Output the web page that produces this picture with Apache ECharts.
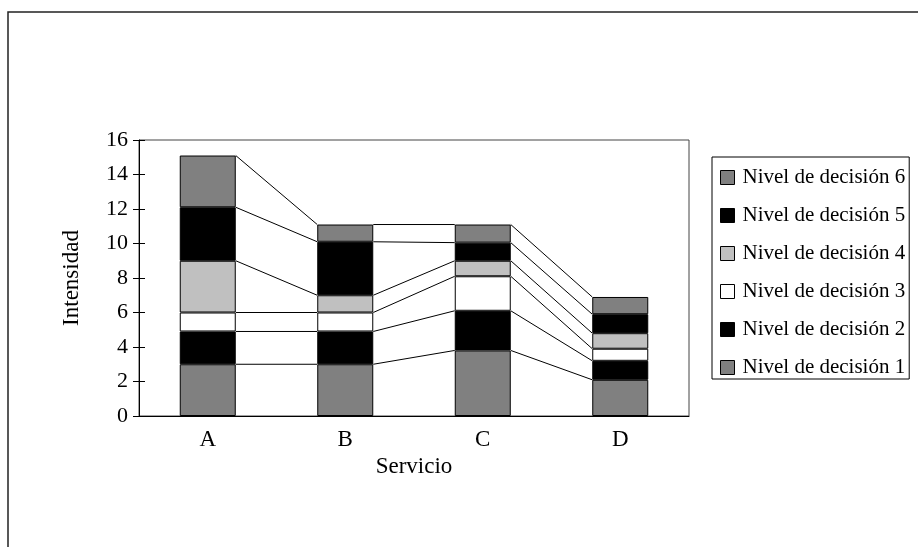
<!DOCTYPE html>
<html>
<head>
<meta charset="utf-8">
<script src="https://cdn.jsdelivr.net/npm/echarts@6/dist/echarts.min.js"></script>
<style>
  html, body { margin: 0; padding: 0; background: #fff; }
  #chart { width: 918px; height: 547px; }
</style>
</head>
<body>
<div id="chart"></div>
<script>
const categories = ['A', 'B', 'C', 'D'];
const levelNames = ['Nivel de decisión 1', 'Nivel de decisión 2', 'Nivel de decisión 3',
  'Nivel de decisión 4', 'Nivel de decisión 5', 'Nivel de decisión 6'];
const nivel1 = [3.0, 3.0, 3.8, 2.1];
const nivel2 = [1.9, 1.9, 2.3, 1.1];
const nivel3 = [1.1, 1.1, 2.0, 0.7];
const nivel4 = [3.0, 1.0, 0.9, 0.9];
const nivel5 = [3.1, 3.1, 1.05, 1.1];
const nivel6 = [3.0, 1.0, 1.05, 1.0];
const yTicks = [0, 2, 4, 6, 8, 10, 12, 14, 16];

const levels = [nivel1, nivel2, nivel3, nivel4, nivel5, nivel6];
const colors = ['#808080', '#000000', '#ffffff', '#c0c0c0', '#000000', '#808080'];
const FONT = '"Liberation Serif", "Times New Roman", serif';
const BAR_W = 56;

// cumulative tops of each level, used for the Excel-style series lines
const tops = levels.map((_, k) =>
  categories.map((_, i) => levels.slice(0, k + 1).reduce((s, arr) => s + arr[i], 0))
);
const lineData = [];
tops.forEach((row) => {
  for (let i = 0; i < categories.length - 1; i++) {
    lineData.push([i, i + 1, row[i], row[i + 1]]);
  }
});

const chart = echarts.init(document.getElementById('chart'));

const barSeries = levels.map((arr, k) => ({
  name: levelNames[k],
  type: 'bar',
  stack: 'total',
  barWidth: BAR_W,
  data: arr,
  itemStyle: { color: colors[k], borderColor: '#000', borderWidth: 1 },
  emphasis: { disabled: true },
}));

const option = {
  animation: false,
  textStyle: { fontFamily: FONT, color: '#000' },
  graphic: [{
    type: 'rect',
    shape: { x: 8, y: 12, width: 1000, height: 1000 },
    style: { fill: 'none', stroke: '#222', lineWidth: 1.5 },
    silent: true,
  }],
  grid: {
    left: 139, right: 229, top: 140, bottom: 131,
    show: true, borderColor: '#444', borderWidth: 1, backgroundColor: '#fff',
  },
  legend: {
    orient: 'vertical',
    left: 712, top: 157,
    data: levelNames.slice().reverse(),
    backgroundColor: '#fff',
    borderColor: '#000', borderWidth: 1,
    padding: [10, 4, 1, 8],
    itemGap: 17,
    itemWidth: 14, itemHeight: 14,
    icon: 'rect',
    itemStyle: { borderColor: '#000', borderWidth: 1 },
    textStyle: { fontFamily: FONT, fontSize: 21, color: '#000', padding: [0, 0, 0, 3] },
    selectedMode: false,
  },
  xAxis: {
    type: 'category',
    data: categories,
    name: 'Servicio',
    nameLocation: 'middle',
    nameGap: 38,
    nameTextStyle: { fontFamily: FONT, fontSize: 23, color: '#000' },
    axisLine: { lineStyle: { color: '#000', width: 1 } },
    axisTick: { show: false },
    axisLabel: { fontFamily: FONT, fontSize: 23, color: '#000', margin: 12 },
  },
  yAxis: [{
    type: 'value',
    min: yTicks[0], max: yTicks[yTicks.length - 1], interval: 2,
    name: 'Intensidad',
    nameLocation: 'middle',
    nameGap: 56,
    nameTextStyle: { fontFamily: FONT, fontSize: 23, color: '#000' },
    axisLine: { show: true, lineStyle: { color: '#000', width: 1 } },
    axisTick: { show: true, length: 6, lineStyle: { color: '#000' } },
    axisLabel: { fontFamily: FONT, fontSize: 22, color: '#000', margin: 11 },
    splitLine: { show: false },
  }, {
    type: 'value',
    position: 'left',
    min: yTicks[0], max: yTicks[yTicks.length - 1], interval: 2,
    axisLine: { show: false },
    axisTick: { show: true, inside: true, length: 6, lineStyle: { color: '#000' } },
    axisLabel: { show: false },
    splitLine: { show: false },
  }],
  series: barSeries.concat([{
    type: 'custom',
    silent: true,
    data: lineData,
    renderItem: (params, api) => {
      const p1 = api.coord([api.value(0), api.value(2)]);
      const p2 = api.coord([api.value(1), api.value(3)]);
      return {
        type: 'line',
        shape: { x1: p1[0] + BAR_W / 2, y1: p1[1], x2: p2[0] - BAR_W / 2, y2: p2[1] },
        style: { stroke: '#000', lineWidth: 1 },
      };
    },
    z: 3,
  }]),
};

chart.setOption(option);
</script>
</body>
</html>
